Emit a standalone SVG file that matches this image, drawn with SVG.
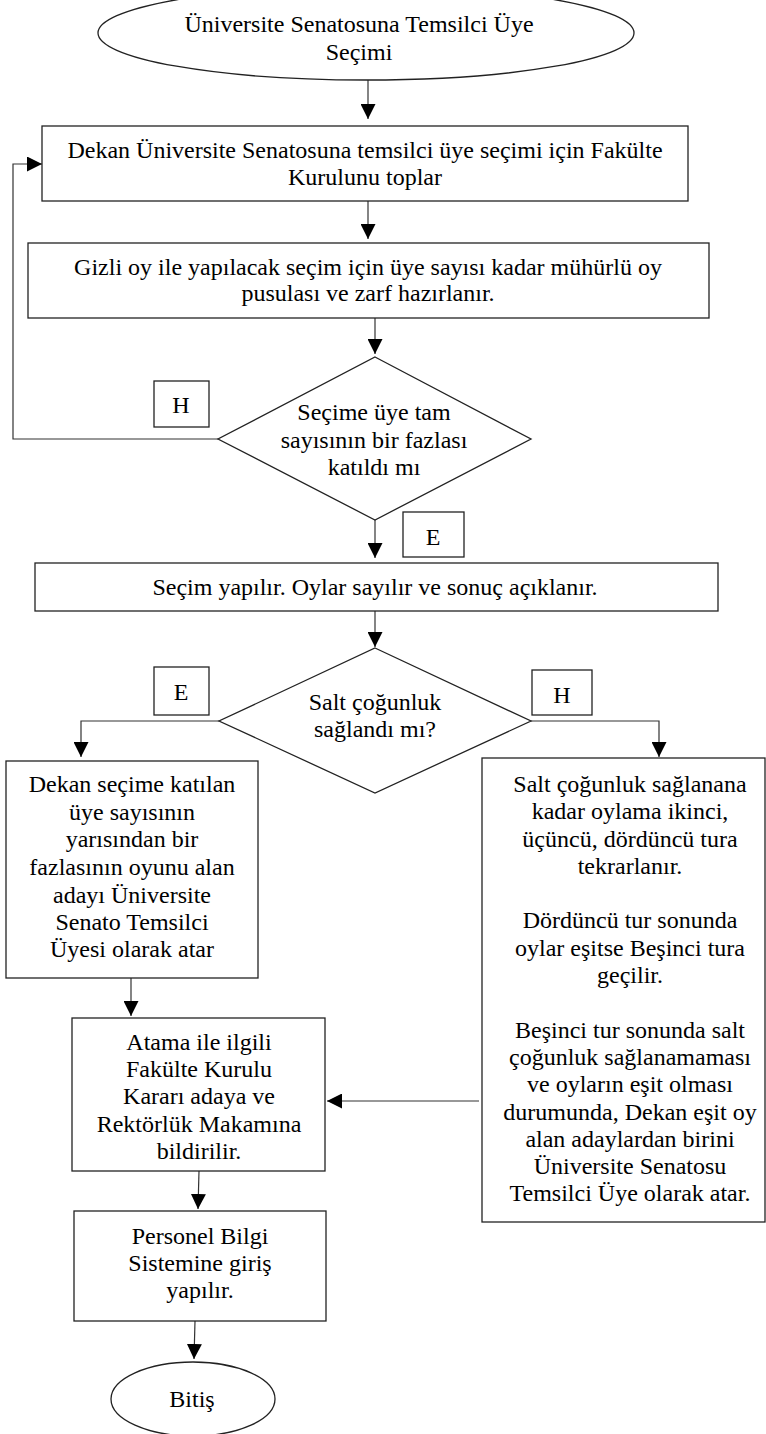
<svg xmlns="http://www.w3.org/2000/svg" width="766" height="1434" viewBox="0 0 766 1434">
  <defs>
    <marker id="ah" viewBox="0 0 15 15" markerWidth="15" markerHeight="15" refX="15" refY="7.5" orient="auto" markerUnits="userSpaceOnUse">
      <path d="M0,0 L15,7.5 L0,15 z" fill="#000"/>
    </marker>
  </defs>
  <style>
    .shape { fill: #fff; stroke: #222; stroke-width: 1.3; }
    .conn { fill: none; stroke: #333; stroke-width: 1.2; marker-end: url(#ah); }
    .lbl { font-family: 'Liberation Serif', 'Times New Roman', serif; font-size: 24px; fill: #000; text-anchor: middle; }
  </style>
  <rect width="766" height="1434" fill="#fff"/>

  <!-- connectors -->
  <g id="connectors">
    <path class="conn" d="M368,80 V119"/>
    <path class="conn" d="M218,439 H13 V164 H42"/>
    <path class="conn" d="M368,201 V239"/>
    <path class="conn" d="M375,318 V354"/>
    <path class="conn" d="M375,520 V558"/>
    <path class="conn" d="M375,611 V647"/>
    <path class="conn" d="M219,721 H81 V757"/>
    <path class="conn" d="M531,721 H659 V757"/>
    <path class="conn" d="M131,978 V1016"/>
    <path class="conn" d="M479,1101 H327"/>
    <path class="conn" d="M199,1171 L198,1209"/>
    <path class="conn" d="M195,1321 L194,1359"/>
  </g>

  <g class="lbl">
  <!-- start terminal -->
  <g id="start">
    <ellipse class="shape" cx="366" cy="33" rx="268" ry="47"/>
    <text x="359" y="32">Üniversite Senatosuna Temsilci Üye</text>
    <text x="359" y="60">Seçimi</text>
  </g>

  <g id="convene">
    <rect class="shape" x="42" y="126" width="646" height="75"/>
    <text x="365" y="158">Dekan Üniversite Senatosuna temsilci üye seçimi için Fakülte</text>
    <text x="365" y="185">Kurulunu toplar</text>
  </g>

  <g id="ballots">
    <rect class="shape" x="28" y="243" width="681" height="75"/>
    <text x="368" y="275">Gizli oy ile yapılacak seçim için üye sayısı kadar mühürlü oy</text>
    <text x="368" y="301">pusulası ve zarf hazırlanır.</text>
  </g>

  <g id="quorum">
    <polygon class="shape" points="375,357 531,439 375,520 218,439"/>
    <text x="374" y="420">Seçime üye tam</text>
    <text x="374" y="448">sayısının bir fazlası</text>
    <text x="374" y="475">katıldı mı</text>
  </g>

  <g id="quorum-no">
    <rect class="shape" x="154" y="381" width="55" height="46"/>
    <text x="181" y="413">H</text>
  </g>

  <g id="quorum-yes">
    <rect class="shape" x="403" y="512" width="61" height="45"/>
    <text x="433" y="545">E</text>
  </g>

  <g id="vote">
    <rect class="shape" x="35" y="563" width="683" height="48"/>
    <text x="375" y="595">Seçim yapılır. Oylar sayılır ve sonuç açıklanır.</text>
  </g>

  <g id="majority">
    <polygon class="shape" points="375,648 531,721 375,793 219,721"/>
    <text x="375" y="710">Salt çoğunluk</text>
    <text x="375" y="737">sağlandı mı?</text>
  </g>

  <g id="majority-yes">
    <rect class="shape" x="154" y="667" width="55" height="48"/>
    <text x="181" y="700">E</text>
  </g>

  <g id="majority-no">
    <rect class="shape" x="532" y="670" width="60" height="45"/>
    <text x="562" y="703">H</text>
  </g>

  <g id="appoint">
    <rect class="shape" x="6" y="761" width="252" height="217"/>
    <text x="132" y="792">Dekan seçime katılan</text>
    <text x="132" y="820">üye sayısının</text>
    <text x="132" y="847">yarısından bir</text>
    <text x="132" y="875">fazlasının oyunu alan</text>
    <text x="132" y="903">adayı Üniversite</text>
    <text x="132" y="930">Senato Temsilci</text>
    <text x="132" y="957">Üyesi olarak atar</text>
  </g>

  <g id="rounds">
    <rect class="shape" x="482" y="758" width="283" height="464"/>
    <text x="630" y="792">Salt çoğunluk sağlanana</text>
    <text x="630" y="819">kadar oylama ikinci,</text>
    <text x="630" y="847">üçüncü, dördüncü tura</text>
    <text x="630" y="874">tekrarlanır.</text>
    <text x="630" y="928">Dördüncü tur sonunda</text>
    <text x="630" y="956">oylar eşitse Beşinci tura</text>
    <text x="630" y="983">geçilir.</text>
    <text x="630" y="1038">Beşinci tur sonunda salt</text>
    <text x="630" y="1065">çoğunluk sağlanamaması</text>
    <text x="630" y="1092">ve oyların eşit olması</text>
    <text x="630" y="1120">durumunda, Dekan eşit oy</text>
    <text x="630" y="1147">alan adaylardan birini</text>
    <text x="630" y="1174">Üniversite Senatosu</text>
    <text x="630" y="1201">Temsilci Üye olarak atar.</text>
  </g>

  <g id="notify">
    <rect class="shape" x="72" y="1018" width="253" height="153"/>
    <text x="199" y="1050">Atama ile ilgili</text>
    <text x="199" y="1077">Fakülte Kurulu</text>
    <text x="199" y="1104">Kararı adaya ve</text>
    <text x="199" y="1132">Rektörlük Makamına</text>
    <text x="199" y="1159">bildirilir.</text>
  </g>

  <g id="record">
    <rect class="shape" x="74" y="1211" width="252" height="110"/>
    <text x="200" y="1244">Personel Bilgi</text>
    <text x="200" y="1271">Sistemine giriş</text>
    <text x="200" y="1298">yapılır.</text>
  </g>

  <!-- end terminal -->
  <g id="end">
    <ellipse class="shape" cx="193" cy="1399" rx="82" ry="37"/>
    <text x="192" y="1407">Bitiş</text>
  </g>
  </g>
</svg>
